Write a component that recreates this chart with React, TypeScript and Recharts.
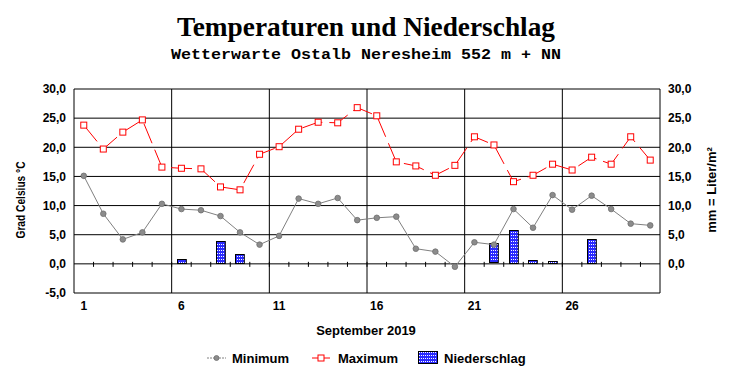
import React from "react";
import {
  ComposedChart,
  Line,
  Bar,
  Scatter,
  XAxis,
  YAxis,
  CartesianGrid,
  ReferenceLine,
} from "recharts";

// September 2019, Wetterwarte Ostalb Neresheim
const days = [
  1, 2, 3, 4, 5, 6, 7, 8, 9, 10, 11, 12, 13, 14, 15, 16, 17, 18, 19, 20, 21, 22, 23, 24, 25, 26, 27,
  28, 29, 30,
];
const minTemp = [
  15.1, 8.6, 4.2, 5.4, 10.3, 9.4, 9.2, 8.2, 5.4, 3.3, 4.8, 11.2, 10.3, 11.3, 7.5, 7.9, 8.1, 2.6, 2.1,
  -0.5, 3.7, 3.3, 9.4, 6.2, 11.8, 9.3, 11.7, 9.4, 6.9, 6.6,
];
const maxTemp = [
  23.8, 19.7, 22.6, 24.7, 16.6, 16.4, 16.3, 13.2, 12.7, 18.8, 20.1, 23.1, 24.3, 24.2, 26.8, 25.4, 17.5,
  16.8, 15.2, 16.9, 21.8, 20.4, 14.1, 15.2, 17.1, 16.1, 18.3, 17.1, 21.8, 17.8,
];
const precip = [
  0, 0, 0, 0, 0, 0.9, 0, 4.0, 1.7, 0, 0, 0, 0, 0, 0, 0, 0, 0, 0, 0, 0, 3.5, 5.8, 0.7, 0.5, 0.1, 4.3, 0,
  0.1, 0,
];

const dayTicks = [1, 6, 11, 16, 21, 26];
const tempTicks = [-5, 0, 5, 10, 15, 20, 25, 30];
const rainTicks = [0, 5, 10, 15, 20, 25, 30];

const W = 732;
const H = 380;
const FONT = "'Liberation Sans', Arial, sans-serif";
const RAIN_BLUE = "#2b2bff";

const chartData = days.map((d, i) => ({
  day: d,
  min: minTemp[i],
  max: maxTemp[i],
  rain: precip[i],
}));

// week separators and the little ticks on the zero line sit between days
const weekBreaks = dayTicks.slice(1).map((d) => d - 0.5);
const dayBounds = days.slice(1).map((d) => ({ day: d - 0.5, zero: 0 }));

const fmt = (v: number) => v.toFixed(1).replace(".", ",");

const tickStyle = { fill: "#000", fontSize: 12, fontWeight: "bold" as const, fontFamily: FONT };

// white dots laid over the blue fill
function DotPattern({ id }: { id: string }) {
  return (
    <defs>
      <pattern id={id} x={0} y={0} width={2} height={3} patternUnits="userSpaceOnUse">
        <rect x={1} y={1} width={1} height={1} fill="#ffffff" />
      </pattern>
    </defs>
  );
}

function MaxDot(props: any) {
  const { cx, cy, index } = props;
  if (cx == null || cy == null) return <g key={`mx-${index}`} />;
  return (
    <rect
      key={`mx-${index}`}
      x={cx - 3}
      y={cy - 3}
      width={6}
      height={6}
      fill="#fff"
      stroke="#ff0000"
      strokeWidth={1}
    />
  );
}

function MinDot(props: any) {
  const { cx, cy, index } = props;
  if (cx == null || cy == null) return <g key={`mn-${index}`} />;
  return <circle key={`mn-${index}`} cx={cx} cy={cy} r={2.8} fill="#8c8c8c" stroke="#6e6e6e" strokeWidth={0.8} />;
}

function ZeroTick(props: any) {
  const { cx, cy } = props;
  return <line x1={cx} x2={cx} y1={cy - 2} y2={cy + 3} stroke="#000" strokeWidth={1} />;
}

function RainBar(props: any) {
  const { x, y, width, height, index } = props;
  if (x == null || !height) return <g />;
  const rx = Math.round(x) + 0.5;
  const ry = Math.round(y) + 0.5;
  const rh = Math.max(Math.round(height) - 1, 0);
  const pid = `rainDots-${index}`;
  return (
    <g>
      <DotPattern id={pid} />
      <rect x={rx} y={ry} width={width} height={rh} fill={RAIN_BLUE} />
      <rect x={rx} y={ry} width={width} height={rh} fill={`url(#${pid})`} />
      <rect x={rx} y={ry} width={width} height={rh} fill="none" stroke="#000" strokeWidth={1} />
    </g>
  );
}

function Overlay() {
  return (
    <svg
      width={W}
      height={H}
      style={{ position: "absolute", left: 0, top: 0, pointerEvents: "none" }}
    >
      <DotPattern id="legendDots" />
      <text
        x={366}
        y={36}
        textAnchor="middle"
        fontFamily="'Liberation Serif', 'Times New Roman', serif"
        fontWeight="bold"
        fontSize={27}
        textLength={378}
        lengthAdjust="spacingAndGlyphs"
      >
        Temperaturen und Niederschlag
      </text>
      <text
        x={366}
        y={59}
        textAnchor="middle"
        fontFamily="'Liberation Mono', 'Courier New', monospace"
        fontWeight="bold"
        fontSize={15}
        textLength={390}
        lengthAdjust="spacingAndGlyphs"
      >
        Wetterwarte Ostalb Neresheim 552 m + NN
      </text>

      <text
        transform="translate(25,200) rotate(-90)"
        textAnchor="middle"
        fontFamily={FONT}
        fontWeight="bold"
        fontSize={13.5}
        textLength={77}
        lengthAdjust="spacingAndGlyphs"
      >
        Grad Celsius °C
      </text>
      <text
        transform="translate(716,190) rotate(-90)"
        textAnchor="middle"
        fontFamily={FONT}
        fontWeight="bold"
        fontSize={13}
      >
        mm = Liter/m²
      </text>

      <text x={366} y={335} textAnchor="middle" fontFamily={FONT} fontWeight="bold" fontSize={13}>
        September 2019
      </text>

      {/* legend */}
      <g fontFamily={FONT} fontWeight="bold" fontSize={13}>
        <line x1={207} x2={226} y1={358} y2={358} stroke="#808080" strokeWidth={1} strokeDasharray="2 1" />
        <circle cx={216.5} cy={358} r={2.5} fill="#8c8c8c" stroke="#6e6e6e" strokeWidth={0.8} />
        <text x={232} y={363}>Minimum</text>

        <line x1={312} x2={330} y1={358} y2={358} stroke="#ff0000" strokeWidth={1} />
        <rect x={318} y={355} width={6} height={6} fill="#fff" stroke="#ff0000" />
        <text x={338} y={363}>Maximum</text>

        <rect x={418.5} y={351.5} width={19} height={12} fill={RAIN_BLUE} />
        <rect x={418.5} y={351.5} width={19} height={12} fill="url(#legendDots)" />
        <rect x={418.5} y={351.5} width={19} height={12} fill="none" stroke="#000" />
        <text x={444} y={363}>Niederschlag</text>
      </g>
    </svg>
  );
}

export default function App() {
  return (
    <div style={{ position: "absolute", left: 0, top: 0, width: W, height: H, background: "#fff", fontFamily: FONT }}>
      <ComposedChart
        width={W}
        height={H}
        data={chartData}
        margin={{ top: 89, right: 0, left: 0, bottom: 57 }}
      >
        <CartesianGrid vertical={false} stroke="#000" strokeWidth={1} yAxisId="left" />
        <XAxis
          dataKey="day"
          type="number"
          domain={[0.5, 30.5]}
          ticks={dayTicks}
          axisLine={false}
          tickLine={false}
          tick={tickStyle}
          height={30}
          interval={0}
          allowDataOverflow
        />
        <YAxis
          yAxisId="left"
          domain={[-5, 30]}
          ticks={tempTicks}
          tickFormatter={fmt}
          axisLine={{ stroke: "#000" }}
          tickLine={false}
          tick={tickStyle}
          width={74}
          interval={0}
        />
        <YAxis
          yAxisId="right"
          orientation="right"
          domain={[-5, 30]}
          ticks={rainTicks}
          tickFormatter={fmt}
          axisLine={{ stroke: "#000" }}
          tickLine={false}
          tick={{ ...tickStyle, textAnchor: "start" }}
          width={72}
          interval={0}
        />
        {weekBreaks.map((b) => (
          <ReferenceLine key={b} x={b} yAxisId="left" stroke="#000" strokeWidth={1} />
        ))}
        <Bar
          yAxisId="right"
          dataKey="rain"
          barSize={10}
          fill={RAIN_BLUE}
          stroke="#000"
          strokeWidth={1}
          shape={RainBar}
          isAnimationActive={false}
        />
        <Scatter
          yAxisId="left"
          data={dayBounds}
          dataKey="zero"
          shape={ZeroTick}
          isAnimationActive={false}
        />
        <Line
          yAxisId="left"
          type="linear"
          dataKey="min"
          stroke="#808080"
          strokeWidth={1}
          dot={MinDot}
          activeDot={false}
          isAnimationActive={false}
        />
        <Line
          yAxisId="left"
          type="linear"
          dataKey="max"
          stroke="#ff0000"
          strokeWidth={1}
          strokeDasharray="21 7"
          dot={MaxDot}
          activeDot={false}
          isAnimationActive={false}
        />
      </ComposedChart>
      <Overlay />
    </div>
  );
}
